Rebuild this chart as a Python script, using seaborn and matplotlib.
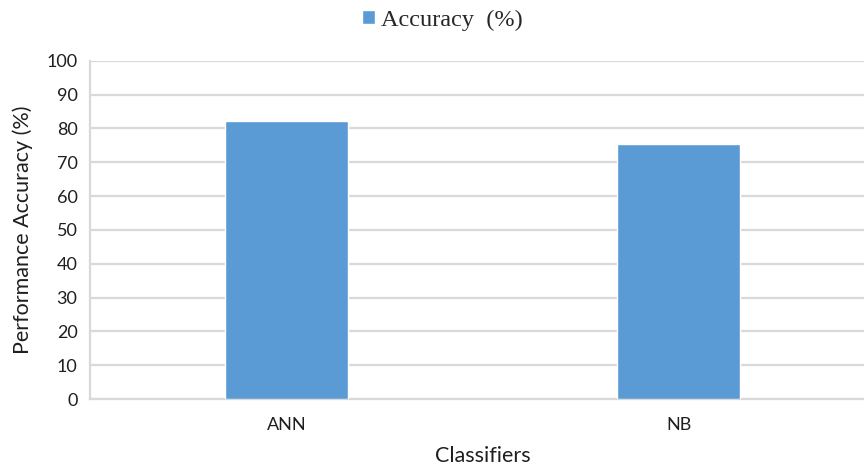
import matplotlib
matplotlib.use("Agg")
import matplotlib.pyplot as plt
import seaborn as sns
import pandas as pd

classifiers = ["ANN", "NB"]
accuracy = [82.2, 75.3]
y_ticks = [0, 10, 20, 30, 40, 50, 60, 70, 80, 90, 100]
series_name = "Accuracy  (%)"

df = pd.DataFrame({"Classifiers": classifiers, "Accuracy": accuracy})

sns.set_theme(style="white")
plt.rcParams["font.family"] = ["Lato", "DejaVu Sans"]

fig = plt.figure(figsize=(8.64, 4.68), dpi=100)
ax = fig.add_axes([0.1042, 0.1474, 0.9086, 0.7229])

sns.barplot(data=df, x="Classifiers", y="Accuracy", color="#5B9BD5",
            width=0.313, saturation=1, label=series_name, ax=ax, zorder=3)

ax.set_ylim(0, 100)
ax.set_yticks(y_ticks)
ax.set_xlim(-0.5, 1.5)
ax.yaxis.grid(True, color="#D9D9D9", linewidth=1.6, zorder=0)
ax.set_axisbelow(True)
for side in ["top", "right"]:
    ax.spines[side].set_visible(False)
for side in ["left", "bottom"]:
    ax.spines[side].set_color("#D9D9D9")
    ax.spines[side].set_linewidth(1.6)
ax.tick_params(axis="both", length=0, labelsize=13, colors="#1f1f1f", pad=9)
ax.tick_params(axis="x", pad=13)

ax.set_ylabel("Performance Accuracy (%)", fontsize=15.5, color="#1f1f1f", labelpad=10)
ax.set_xlabel("Classifiers", fontsize=15.5, color="#1f1f1f", labelpad=9)

handles, labels = ax.get_legend_handles_labels()
if ax.get_legend() is not None:
    ax.get_legend().remove()
fig.legend(handles, labels, loc="center", bbox_to_anchor=(0.512, 0.957),
           frameon=False, handlelength=0.55, handleheight=0.55,
           handletextpad=0.25, prop={"family": "Liberation Serif", "size": 17.5})

fig.savefig("out.png", dpi=100)
